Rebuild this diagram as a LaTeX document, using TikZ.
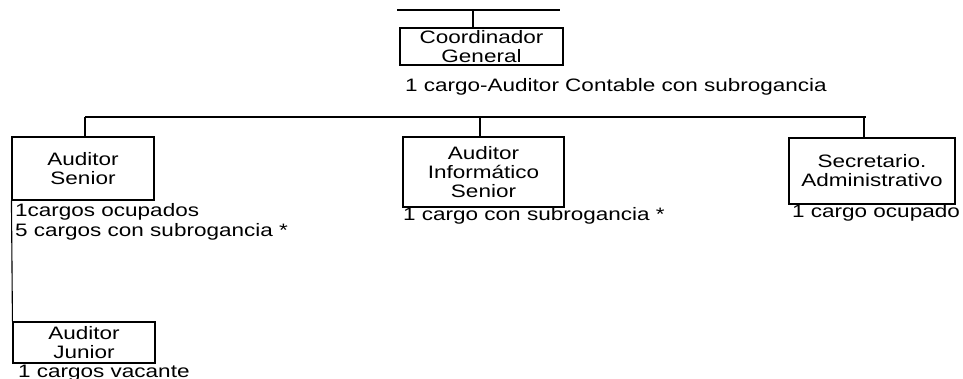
\documentclass[tikz,border=0pt]{standalone}
\usepackage{fontspec}
\setmainfont{Liberation Sans}[FakeStretch=1.25]
\begin{document}
\begin{tikzpicture}[x=1pt,y=-1pt,
  every node/.style={inner sep=0pt, font=\fontsize{18}{19}\selectfont},
  box/.style={draw, line width=1.1pt, rectangle, align=center},
  lbl/.style={anchor=base west},
  conn/.style={line width=1.1pt}]
\useasboundingbox (0,0) rectangle (963,379);
% boxes
\node[box, minimum width=163pt, minimum height=37pt] (cg) at (481.5,46.5) {Coordinador\\General};
\node[box, minimum width=142pt, minimum height=63pt] (as) at (83,168.5) {Auditor\\Senior};
\node[box, minimum width=161pt, minimum height=70pt] (ais) at (483.5,172) {Auditor\\Informático\\Senior};
\node[box, minimum width=166pt, minimum height=66pt] (sa) at (872,171) {Secretario.\\Administrativo};
\node[box, minimum width=142pt, minimum height=41pt] (aj) at (84,342.5) {Auditor\\Junior};
% labels
\node[lbl] (l0) at (405,92) {1 cargo-Auditor Contable con subrogancia};
\node[lbl] (l1) at (15,217) {1cargos ocupados};
\node[lbl] (l2) at (15,237) {5 cargos con subrogancia *};
\node[lbl] (l3) at (403,221) {1 cargo con subrogancia *};
\node[lbl] (l4) at (792,218) {1 cargo ocupado};
\node[lbl] (l5) at (18,377) {1 cargos vacante};
% connectors
\coordinate (tl) at (397,10);
\coordinate (tr) at (560,10);
\coordinate (tm) at (473,10);
\draw[conn] (tl) -- (tr);
\draw[conn] (tm) -- (tm |- cg.north);
\coordinate (hl) at (85,117);
\coordinate (hr) at (866,117);
\draw[conn] (hl) -- (hr);
\draw[conn] (85,117) -- (85,0 |- as.north);
\draw[conn] (480,117) -- (480,0 |- ais.north);
\draw[conn] (864,117) -- (864,0 |- sa.north);
\draw[conn] (as.south west) -- (aj.north west);
\end{tikzpicture}
\end{document}
